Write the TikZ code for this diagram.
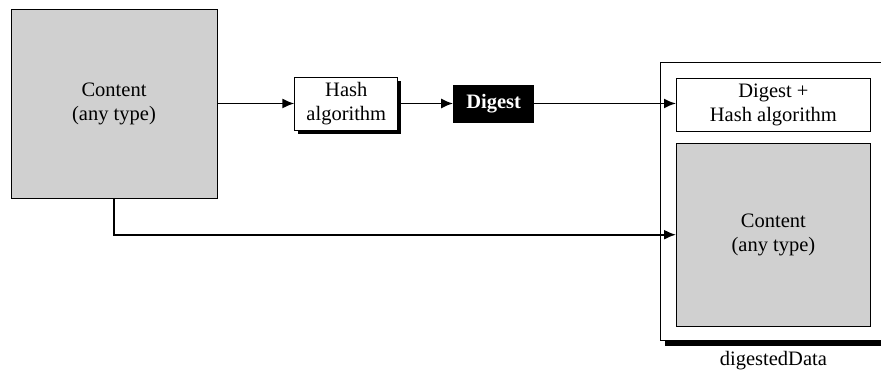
\documentclass[tikz,border=0pt]{standalone}
\usepackage{fontspec}
\setmainfont{Liberation Serif}
\usepackage{tikz}
\usetikzlibrary{arrows.meta,positioning,shadows}
\definecolor{Shade}{HTML}{D0D0D0}

\begin{document}
\begin{tikzpicture}[x=1pt,y=1pt,>={Latex[length=12pt,width=10pt]},
  every node/.style={font=\fontsize{20.5}{24}\selectfont,align=center,inner sep=0pt},
  box/.style={draw,line width=0.8pt},
  hard shadow/.style={drop shadow={shadow xshift=#1,shadow yshift=-#1-1pt,fill=black,opacity=1}},
  flow/.style={->,line width=1.8pt}]
\useasboundingbox (0,0) rectangle (881,371);
\clip (0,0) rectangle (881,371);
\node[box,fill=Shade,minimum width=206pt,minimum height=189pt] (content) at (114,267.5) {Content\\(any type)};
\node[box,fill=white,hard shadow=3pt,minimum width=103pt,minimum height=53pt,right=77pt of content] (hash) {Hash\\algorithm};
\node[box,fill=black,text=white,font=\fontsize{20.5}{24}\selectfont\bfseries,minimum width=80pt,minimum height=37pt,right=55pt of hash] (digest) {Digest};
% signed data envelope, runs past the right margin
\node[box,fill=white,hard shadow=5pt,minimum width=300pt,minimum height=278pt,anchor=north west] (data) at (660,309) {};
\node[box,fill=white,minimum width=194pt,minimum height=53pt,anchor=north west] (dhash) at (676,293) {Digest +\\Hash algorithm};
\node[box,fill=Shade,minimum width=194pt,minimum height=183pt,below=11pt of dhash] (dcontent) {Content\\(any type)};
\node[anchor=base] (label) at (dhash.center |- 0,5) {digestedData};
\draw[flow] (content) -- (hash);
\draw[flow] (hash) -- (digest);
\draw[flow] (digest) -- (digest -| dhash.west);
\draw[flow] (content.south) |- (dcontent.west);
\end{tikzpicture}
\end{document}
